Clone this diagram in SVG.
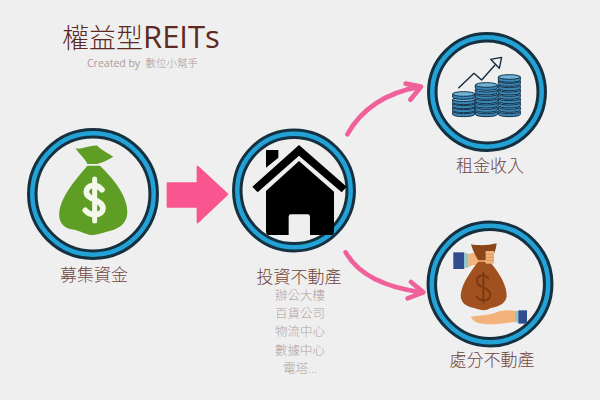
<svg xmlns="http://www.w3.org/2000/svg" width="600" height="400" viewBox="0 0 600 400">
<style>
text{font-family:"Open Sans","Noto Sans CJK TC",sans-serif}
.cjk{font-family:"Noto Sans CJK TC",sans-serif}
.ro{fill:none;stroke:#15303f}
.ri{fill:none;stroke:#22a2d6}
.lab{font-size:17px;fill:#6f443c;text-anchor:middle;font-weight:300}
.sub{font-size:12.5px;fill:#b0a3a1;text-anchor:middle;font-weight:300}
.cv{fill:none;stroke:#f0609a;stroke-linecap:round;stroke-linejoin:round;stroke-width:14}
.cb{fill:#3b86b5;stroke:#12304a;stroke-width:3}
.ct{fill:#6fb4d6;stroke:#12304a;stroke-width:3}
</style>
<defs>
<g id="coin"><path class="cb" d="M0 0V9A33 7 0 0 0 66 9V0Z"/><ellipse class="ct" cx="33" cy="0" rx="33" ry="7"/></g>
</defs>
<rect width="600" height="400" fill="#efefef"/>
<g id="title">
<text x="62" y="48" font-size="27" fill="#5b2a20" class="cjk" font-weight="300">權益型<tspan font-family="Open Sans" font-size="31" font-weight="400">REITs</tspan></text>
<text x="87" y="67" font-size="10.5" fill="#ab9a96" xml:space="preserve">Created by  <tspan class="cjk" font-weight="300">數位小幫手</tspan></text>
</g>
<g id="connectors">
<path fill="#f9558f" stroke="#f9558f" stroke-width="6" stroke-linejoin="round" transform="translate(10 125) scale(.3333)" d="M473 175H563V125L652 208L563 292V245H473Z"/>
<g transform="translate(340 25) scale(.3333)"><path class="cv" d="M22 328C60 260 130 205 240 185M197 176L243 185L211 224"/></g>
<g transform="translate(340 215) scale(.3333)"><path class="cv" d="M17 112C50 170 120 215 245 232M213 201L250 232L203 250"/></g>
</g>
<g id="node-fund">
<circle class="ro" cx="93" cy="194" r="60.7" stroke-width="10.5"/><circle class="ri" cx="93" cy="194" r="60.7" stroke-width="4.5"/>
<g transform="translate(10 125) scale(.3333)">
<path fill="#5f9e24" d="M197 70C215 75 240 60 262 62C270 72 295 85 310 95C295 105 275 113 262 117L232 117C225 100 205 85 197 70Z"/>
<path fill="#5f9e24" d="M232 122L270 122C310 160 355 215 352 265C350 300 320 315 290 320C270 325 255 332 240 330C220 325 205 315 180 312C155 305 145 285 148 260C155 210 200 160 232 122Z"/>
<path fill="none" stroke="#f4f8ea" stroke-width="15" stroke-linecap="round" d="M254 162V288"/>
<path fill="none" stroke="#f4f8ea" stroke-width="17" stroke-linecap="round" stroke-linejoin="round" d="M276 194C262 176 230 178 229 200C228 226 278 222 279 250C279 272 244 276 226 256"/>
</g>
<text class="lab" x="94" y="281">募集資金</text>
</g>
<g id="node-invest">
<circle class="ro" cx="294" cy="190.5" r="56.7" stroke-width="10.5"/><circle class="ri" cx="294" cy="190.5" r="56.7" stroke-width="4.5"/>
<g transform="translate(225 125) scale(.3333)" fill="#000">
<path d="M123 75H160V98L123 128Z"/>
<path d="M222 60L365 185L350 202L222 92L98 202L82 185Z"/>
<path d="M222 108L327 200V320Q327 330 317 330H255V275Q255 268 248 268H198Q191 268 191 275V330H133Q123 330 123 320V198Z"/>
</g>
<text class="lab" x="299" y="283">投資不動產</text>
<text class="sub" x="300" y="300">辦公大樓</text>
<text class="sub" x="300" y="318">百貨公司</text>
<text class="sub" x="300" y="336">物流中心</text>
<text class="sub" x="300" y="355">數據中心</text>
<text class="sub" x="300" y="373">電塔...</text>
</g>
<g id="node-rent">
<circle class="ro" cx="487" cy="92" r="54.7" stroke-width="10.5"/><circle class="ri" cx="487" cy="92" r="54.7" stroke-width="4.5"/>
<g transform="translate(340 25) scale(.3333)">
<use href="#coin" x="338" y="259"/><use href="#coin" x="338" y="247"/><use href="#coin" x="338" y="235"/><use href="#coin" x="338" y="223"/><use href="#coin" x="338" y="207"/>
<use href="#coin" x="406" y="259"/><use href="#coin" x="406" y="246"/><use href="#coin" x="406" y="233"/><use href="#coin" x="406" y="220"/><use href="#coin" x="406" y="207"/><use href="#coin" x="406" y="194"/><use href="#coin" x="406" y="180"/>
<use href="#coin" x="475" y="259"/><use href="#coin" x="475" y="246"/><use href="#coin" x="475" y="233"/><use href="#coin" x="475" y="220"/><use href="#coin" x="475" y="207"/><use href="#coin" x="475" y="194"/><use href="#coin" x="475" y="181"/><use href="#coin" x="475" y="168"/><use href="#coin" x="475" y="156"/>
<path fill="none" stroke="#12263a" stroke-width="4" stroke-linejoin="round" d="M355 190L402 145L425 165L465 120M452 103L485 97L478 130Z"/>
</g>
<text class="lab" x="490" y="172">租金收入</text>
</g>
<g id="node-sale">
<circle class="ro" cx="490" cy="284" r="58.2" stroke-width="10.5"/><circle class="ri" cx="490" cy="284" r="58.2" stroke-width="4.5"/>
<g transform="translate(340 215) scale(.3333)">
<rect x="340" y="112" width="33" height="50" fill="#2f4d8f"/>
<rect x="372" y="115" width="13" height="43" fill="#8fc7c9"/>
<path fill="#f3b27a" d="M385 118L405 112L435 120V150L400 150L385 156Z"/>
<path fill="#a0511f" d="M415 140H450C475 170 502 210 500 245C495 270 470 275 450 280C435 290 420 285 405 280C380 275 362 265 362 240C365 205 395 165 415 140Z"/>
<path fill="#8a4519" d="M393 88C415 92 445 92 470 85C468 105 462 120 450 136H415C405 120 398 105 393 88Z"/>
<path fill="#f3b27a" d="M437 108H462V146H437Z"/>
<path fill="none" stroke="#d18a55" stroke-width="2" d="M437 118H462M437 127H462M437 136H462"/>
<path fill="none" stroke="#7c3a14" stroke-width="6" d="M447 192C435 176 411 178 411 198C411 222 451 214 451 240C451 258 423 262 409 244M430 172V264"/>
<path fill="#f3b27a" d="M392 305C420 300 450 302 470 291C490 285 510 285 527 288V320C490 325 450 332 420 325C405 322 398 315 392 305Z"/>
<rect x="525" y="288" width="10" height="34" fill="#8fc7c9"/>
<rect x="535" y="286" width="26" height="40" fill="#2f4d8f"/>
</g>
<text class="lab" x="492" y="366">處分不動產</text>
</g>
</svg>
